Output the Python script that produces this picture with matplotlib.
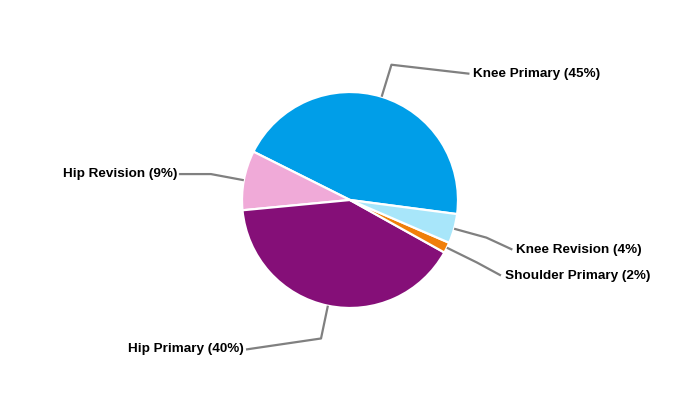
import numpy as np
import matplotlib
matplotlib.use("Agg")
import matplotlib.pyplot as plt

# data (slice order = counterclockwise from start angle)
categories = ["Knee Primary", "Hip Revision", "Hip Primary", "Shoulder Primary", "Knee Revision"]
shares = [44.7, 8.9, 40.4, 1.6, 4.4]
colors = ["#009EE8", "#F0AAD8", "#850F78", "#F07F09", "#A8E6FA"]

# leader line offsets from the elbow (pixels, x right / y down)
label_offsets = [(78, 9), (-32, 0), (-75, 11), (24, 13), (26, 12)]

plt.rcParams['font.family'] = ['Liberation Sans', 'DejaVu Sans']

fig = plt.figure(figsize=(7, 4), dpi=100)
ax = fig.add_axes([0, 0, 1, 1])

cx, cy, R = 350, 200, 108
start = -7.5

wedges, _ = ax.pie(shares, colors=colors, startangle=start, counterclock=True,
                   center=(cx, cy), radius=R,
                   wedgeprops=dict(edgecolor="white", linewidth=1.6))

for w, name, val, (ox, oy) in zip(wedges, categories, shares, label_offsets):
    mid = np.deg2rad((w.theta1 + w.theta2) / 2)
    x0, y0 = cx + R * np.cos(mid), cy + R * np.sin(mid)
    x1, y1 = cx + 1.31 * R * np.cos(mid), cy + 1.31 * R * np.sin(mid)
    x2, y2 = x1 + ox, y1 - oy
    ax.plot([x0, x1, x2], [y0, y1, y2], color="#808080", lw=1.6,
            solid_capstyle="butt", zorder=1)
    if ox > 0:
        ax.text(x2 + 4, y2, f"{name} ({val:.0f}%)", ha="left", va="center",
                fontsize=9.7, fontweight="bold", color="black")
    else:
        ax.text(x2 - 2, y2, f"{name} ({val:.0f}%)", ha="right", va="center",
                fontsize=9.7, fontweight="bold", color="black")

ax.set_xlim(0, 700)
ax.set_ylim(0, 400)
ax.set_aspect("equal")
ax.axis("off")

plt.savefig("out.png", dpi=100)
